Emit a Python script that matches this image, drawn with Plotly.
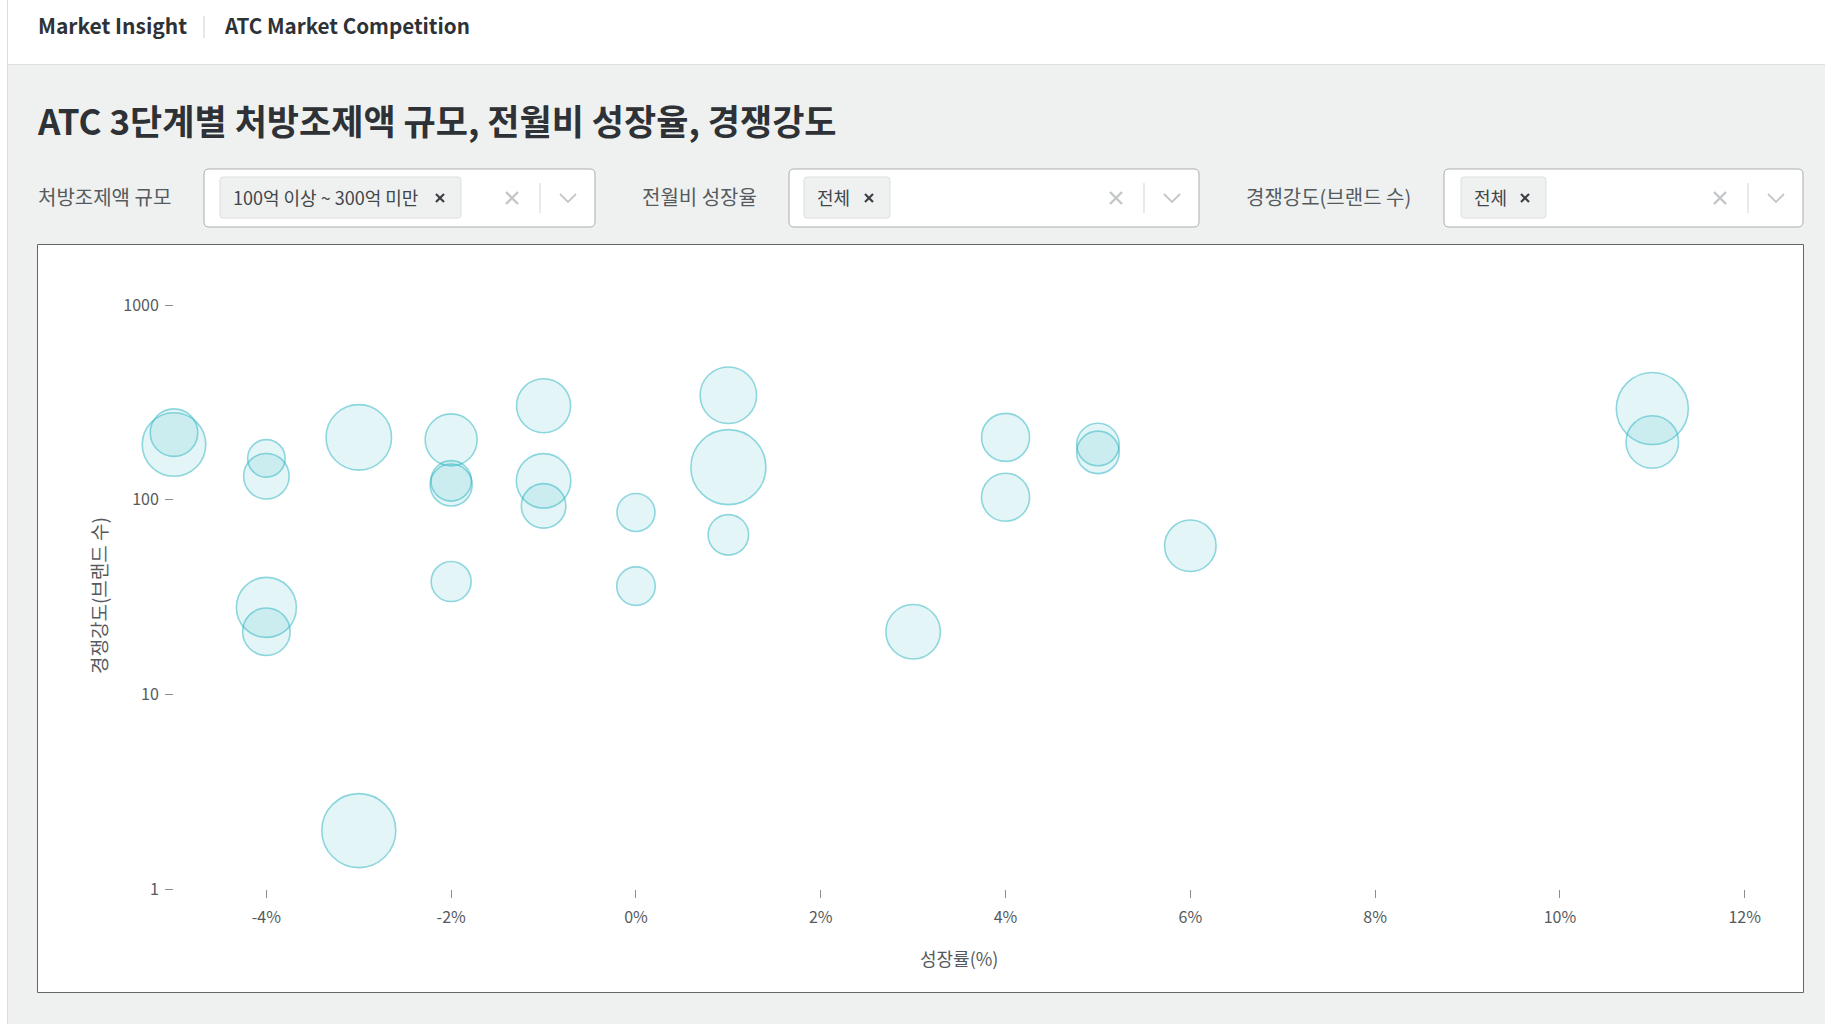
import plotly.graph_objects as go

W, H = 1825, 1024

# ---------------- data ----------------
growth_rate = [-5, -5, -4, -4, -4, -4, -3, -3, -2, -2, -2, -2, -1, -1, -1, 0, 0,
               1, 1, 1, 3, 4, 4, 5, 5, 6, 11, 11]
brand_count = [192, 221, 163, 132, 28, 21, 209, 2, 203, 125, 119, 38, 304, 125, 93, 86, 36,
               344, 147, 66, 21, 209, 103, 192, 175, 58, 294, 198]
rx_amount = [254, 190, 150, 182, 240, 190, 262, 296, 208, 162, 168, 160, 216, 218, 178, 152, 154,
             226, 300, 162, 218, 192, 192, 170, 170, 206, 288, 210]

x_tick_vals = [-4, -2, 0, 2, 4, 6, 8, 10, 12]
x_tick_text = ['-4%', '-2%', '0%', '2%', '4%', '6%', '8%', '10%', '12%']
y_tick_vals = [1, 10, 100, 1000]
y_tick_text = ['1', '10', '100', '1000']

breadcrumb = ["Market Insight", "ATC Market Competition"]
page_title = "ATC 3단계별 처방조제액 규모, 전월비 성장율, 경쟁강도"
filter_labels = ["처방조제액 규모", "전월비 성장율", "경쟁강도(브랜드 수)"]
filter_values = ["100억 이상 ~ 300억 미만", "전체", "전체"]
x_title = "성장률(%)"
y_title = "경쟁강도(브랜드 수)"

# ---------------- style ----------------
FONT = "Noto Sans CJK KR, Noto Sans, sans-serif"
PAGE_BG = "#eff1f0"
TEXT_DARK = "#2e3236"
TEXT_MID = "#555a5e"
BUBBLE_FILL = "rgba(48,184,196,0.19)"
BUBBLE_LINE = "rgba(38,178,192,0.72)"


def fx(x):
    return x / W


def fy(y):
    return 1 - y / H


def rect(x0, y0, x1, y1, fill, line=None, lw=1, layer="below"):
    return dict(type="rect", xref="paper", yref="paper", x0=fx(x0), x1=fx(x1),
                y0=fy(y1), y1=fy(y0), fillcolor=fill,
                line=dict(color=line or fill, width=lw if line else 0), layer=layer)


def rrect(x0, y0, x1, y1, r, fill, line, lw=1, layer="below"):
    def p(x, y):
        return f"{fx(x):.6f},{fy(y):.6f}"
    path = (f"M{p(x0 + r, y0)} L{p(x1 - r, y0)} Q{p(x1, y0)} {p(x1, y0 + r)} "
            f"L{p(x1, y1 - r)} Q{p(x1, y1)} {p(x1 - r, y1)} L{p(x0 + r, y1)} "
            f"Q{p(x0, y1)} {p(x0, y1 - r)} L{p(x0, y0 + r)} Q{p(x0, y0)} {p(x0 + r, y0)} Z")
    return dict(type="path", xref="paper", yref="paper", path=path, fillcolor=fill,
                line=dict(color=line, width=lw), layer=layer)


def seg(pts, color, lw=1, layer="above"):
    path = "M" + " L".join(f"{fx(x):.6f},{fy(y):.6f}" for x, y in pts)
    return dict(type="path", xref="paper", yref="paper", path=path,
                line=dict(color=color, width=lw), layer=layer)


def text(x, y, s, size, color, bold=False, xanchor="left", yanchor="middle", angle=0):
    return dict(xref="paper", yref="paper", x=fx(x), y=fy(y), text=f"<b>{s}</b>" if bold else s,
                showarrow=False, xanchor=xanchor, yanchor=yanchor, textangle=angle,
                font=dict(family=FONT, size=size, color=color))


shapes = []
annotations = []

# header band and sidebar edge
shapes.append(rect(0, 0, W, 64, "white"))
shapes.append(seg([(0, 64.5), (W, 64.5)], "#dde0df", 1, layer="below"))
shapes.append(rect(0, 0, 7, H, "white"))
shapes.append(seg([(7.5, 0), (7.5, H)], "#dcdfde", 1, layer="below"))
shapes.append(seg([(204, 16), (204, 38)], "#cfd3d3", 1))
annotations.append(text(35.5, 24.5, breadcrumb[0], 21, TEXT_DARK, bold=True))
annotations.append(text(222, 24.5, breadcrumb[1], 20.6, TEXT_DARK, bold=True))

# page title
annotations.append(text(35, 119, page_title, 35, TEXT_DARK, bold=True))

# filter row
label_x = [36, 640, 1244]
box_x = [(204, 595), (789, 1199), (1444, 1803)]
chip_x = [(220, 461), (804, 890), (1461, 1546)]
by0, by1 = 169, 227
cy = (by0 + by1) / 2
for i in range(3):
    annotations.append(text(label_x[i], cy - 2, filter_labels[i], 20, TEXT_MID))
    bx0, bx1 = box_x[i]
    shapes.append(rrect(bx0, by0, bx1, by1, 5, "white", "#a9adb0", 1))
    cx0, cx1 = chip_x[i]
    shapes.append(rrect(cx0, 177, cx1, 218, 3, "#eff1f0", "#dcdfdf", 1, layer="above"))
    annotations.append(text(cx0 + 11, cy - 1.5, filter_values[i], 18, "#41464a"))
    # chip remove mark
    mx = cx1 - 21
    shapes.append(seg([(mx - 4, cy - 4), (mx + 4, cy + 4)], "#3c4044", 2.2))
    shapes.append(seg([(mx - 4, cy + 4), (mx + 4, cy - 4)], "#3c4044", 2.2))
    # clear mark
    clx = bx1 - 83
    shapes.append(seg([(clx - 6, cy - 6), (clx + 6, cy + 6)], "#c4c7c9", 2.4))
    shapes.append(seg([(clx - 6, cy + 6), (clx + 6, cy - 6)], "#c4c7c9", 2.4))
    # divider
    shapes.append(seg([(bx1 - 55, cy - 15), (bx1 - 55, cy + 15)], "#d2d5d6", 1))
    # chevron
    chx = bx1 - 27
    shapes.append(seg([(chx - 8, cy - 4), (chx, cy + 4), (chx + 8, cy - 4)], "#c4c7c9", 1.8))

# chart box
shapes.append(rect(37.5, 244.5, 1803.5, 992.5, "white", "#62676c", 1))

# axis titles
annotations.append(text(959, 958, x_title, 18, TEXT_MID, xanchor="center"))
annotations.append(text(98, 596, y_title, 19, TEXT_MID, xanchor="center", angle=-90))

fig = go.Figure()
fig.add_trace(go.Scatter(
    x=growth_rate, y=brand_count, mode="markers",
    marker=dict(size=rx_amount, sizemode="diameter", sizeref=4.0,
                color=BUBBLE_FILL, line=dict(color=BUBBLE_LINE, width=1.6)),
    cliponaxis=False,
    customdata=rx_amount,
    hovertemplate="성장률: %{x}%<br>브랜드 수: %{y}<br>처방조제액: %{customdata}억<extra></extra>",
))

fig.update_layout(
    width=W, height=H, margin=dict(l=0, r=0, t=0, b=0),
    template="none",
    paper_bgcolor=PAGE_BG, plot_bgcolor="rgba(0,0,0,0)",
    font=dict(family=FONT, color=TEXT_MID),
    showlegend=False,
    shapes=shapes, annotations=annotations,
    xaxis=dict(domain=[174 / W, 1744.7 / W], range=[-5, 12], tickvals=x_tick_vals,
               ticktext=x_tick_text, showgrid=False, zeroline=False, showline=False,
               ticks="outside", ticklen=8, tickwidth=1, tickcolor="#8a8e91",
               ticklabelstandoff=6,
               tickfont=dict(size=16, color=TEXT_MID, family=FONT), automargin=False,
               fixedrange=True),
    yaxis=dict(domain=[1 - 889.2 / H, 1 - 305 / H], type="log", range=[0, 3],
               tickvals=y_tick_vals, ticktext=y_tick_text, showgrid=False,
               zeroline=False, showline=False, ticks="outside", ticklen=8, tickwidth=1,
               ticklabelstandoff=3,
               tickcolor="#8a8e91", tickfont=dict(size=16, color=TEXT_MID, family=FONT),
               automargin=False, fixedrange=True),
)

fig.write_html("out.html", config={"displayModeBar": False},
               post_script="document.body.style.margin='0';document.body.style.overflow='hidden';")
